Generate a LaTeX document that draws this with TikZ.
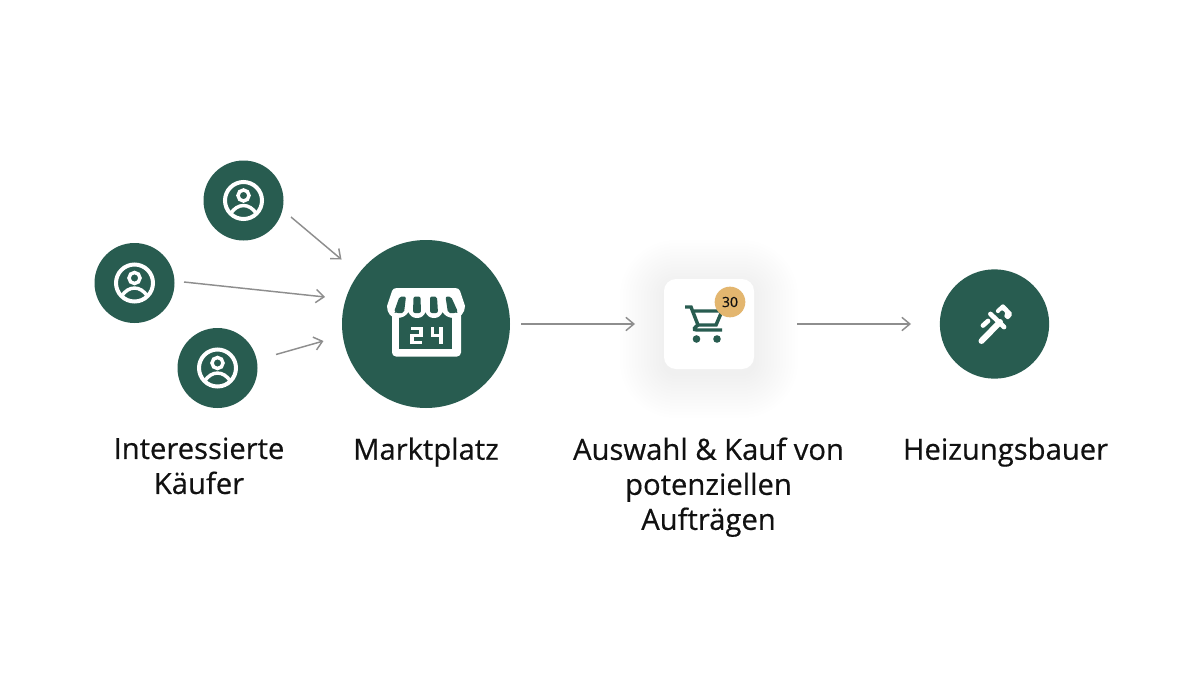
\documentclass[tikz,border=0pt]{standalone}
\usepackage{fontspec}
\setmainfont[RawFeature={embolden=0.5}]{Open Sans}
\usetikzlibrary{arrows.meta}
\definecolor{tannengruen}{HTML}{285C50}
\definecolor{pfeilgrau}{HTML}{8E8E8E}
\definecolor{badgegelb}{HTML}{E3B66F}
\definecolor{textschwarz}{HTML}{111111}
\tikzset{every picture/.style={line width=0.75pt},
  kreis/.style={circle,fill=tannengruen,draw=none,inner sep=0pt},
  pfeil/.style={draw=pfeilgrau,line width=1.1pt,-{Straight Barb[length=6pt,width=10pt,line width=1.1pt]}},
  beschriftung/.style={anchor=north,align=center,inner sep=0pt,text=textschwarz,font=\fontsize{21.9}{26.25}\selectfont},
  usericon/.pic={
    \draw[white,line width=3pt] (0,0) circle (18.5);
    \draw[white,line width=2.6pt] (0,5) circle (5.5);
    \draw[white,line width=2.6pt] (-13,-13.3) .. controls (-6,-2.3) and (6,-2.3) .. (13,-13.3);
  }
}

\begin{document}
\begin{tikzpicture}[x=0.75pt,y=0.75pt,yscale=-1,xscale=1]
\useasboundingbox (0,0) rectangle (1200,675);

%Shape: Card shadow
\foreach \s in {2,5,...,44}
  \fill[black,opacity=0.0055,rounded corners={0.75*(12+\s)}] (664-\s,279-\s+5) rectangle (754+\s,369+\s+5);
%Shape: Circle nodes
\node[kreis,minimum size=60pt] (kaeufer1) at (243.5,200.5) {};
\node[kreis,minimum size=60pt] (kaeufer2) at (134.5,283) {};
\node[kreis,minimum size=60pt] (kaeufer3) at (217.5,368) {};
\node[kreis,minimum size=126pt] (markt) at (426,324) {};
\node[kreis,minimum size=82pt] (bauer) at (994.5,324) {};
%Shape: Card
\node[fill=white,rounded corners=9pt,minimum width=67.5pt,minimum height=67.5pt,inner sep=0pt] (karte) at (709,324) {};

%Shape: User icons
\pic at (kaeufer1) {usericon};
\pic at (kaeufer2) {usericon};
\pic at (kaeufer3) {usericon};

%Shape: Store icon
\fill[white,rounded corners=3] (392,300) rectangle (461,356.5);
\fill[tannengruen] (399,312) rectangle (452,349);
\fill[white] (397,288) .. controls (394,288) and (393,289) .. (392,291) -- (387,306) .. controls (387,313) and (391,318) .. (397,318) .. controls (402,318) and (406,316) .. (408.5,312)
  .. controls (410,316) and (413,318) .. (417,318) .. controls (421,318) and (424,316) .. (425.5,312) .. controls (427,316) and (430,318) .. (434,318) .. controls (438,318) and (441,316) .. (442.5,312)
  .. controls (445,316) and (449,318) .. (454,318) .. controls (460,318) and (465,313) .. (465,306) -- (460,291) .. controls (459,289) and (458,288) .. (455,288) -- cycle;
\fill[tannengruen,rounded corners=1.5] (399.5,296.5) -- (406,296.5) -- (404,313) -- (396,313) -- (394,312) -- cycle;
\fill[tannengruen,rounded corners=1.5] (413.5,296.5) -- (420.5,296.5) -- (421,313) -- (413,313) -- cycle;
\fill[tannengruen,rounded corners=1.5] (430,296.5) -- (437,296.5) -- (438,313) -- (430,313) -- cycle;
\fill[tannengruen,rounded corners=1.5] (445.5,296.5) -- (451,296.5) -- (458,312) -- (456,313) -- (448,313) -- cycle;
%Digits
\draw[white,line width=2.5pt] (411,328.5) -- (421,328.5) -- (421,335.5) -- (412,335.5) -- (412,342.5) -- (422,342.5);
\draw[white,line width=2.5pt] (432.5,327) -- (432.5,335.5) -- (441,335.5) (441,327) -- (441,344);

%Shape: Cart icon
\draw[tannengruen,line width=2.6pt] (685,307) -- (691,307) -- (698,325) -- (716,325) -- (722,311) -- (692,311);
\draw[tannengruen,line width=2.6pt] (698,325) .. controls (695,327) and (692,330) .. (697,330) -- (722,330);
\fill[tannengruen] (696.5,339) circle (3.8) (717,339) circle (3.8);
\node[circle,fill=badgegelb,minimum size=23pt,inner sep=0pt,text=textschwarz,font=\fontsize{10.5}{12}\selectfont] (badge) at (730,302) {30};

%Shape: Wrench icon
\draw[white,line width=4.5pt,line cap=round] (981.5,341) -- (1000,322);
\draw[white,line width=3.5pt,line cap=round] (983,325.5) -- (988,321);
\draw[white,line width=3.6pt,line cap=round] (990.5,314) -- (1004,327);
\fill[white,rounded corners=1.5] (1003,303.5) -- (1013,314) -- (1008,320) -- (1003.5,316) -- (1006,313.5) -- (1002,309.5) -- (998,314) -- (995,311) -- cycle;

%Straight Lines
\coordinate (a1s) at (291,217); \coordinate (a1e) at (341.5,259.5);
\coordinate (a2s) at (184,282); \coordinate (a2e) at (325,297);
\coordinate (a3s) at (276,354.5); \coordinate (a3e) at (323.5,341);
\coordinate (a4s) at (521,324); \coordinate (a4e) at (635,324);
\coordinate (a5s) at (797,324); \coordinate (a5e) at (911,324);
\draw[pfeil] (a1s) -- (a1e);
\draw[pfeil] (a2s) -- (a2e);
\draw[pfeil] (a3s) -- (a3e);
\draw[pfeil] (a4s) -- (a4e);
\draw[pfeil] (a5s) -- (a5e);

% Text Node
\node[beschriftung] (t1) at (199,437) {Interessierte\\Käufer};
% Text Node
\node[beschriftung] (t2) at (426,437) {Marktplatz};
% Text Node
\node[beschriftung] (t3) at (708.5,437) {Auswahl \& Kauf von\\potenziellen\\Aufträgen};
% Text Node
\node[beschriftung] (t4) at (1005.5,437) {Heizungsbauer};

\end{tikzpicture}
\end{document}
